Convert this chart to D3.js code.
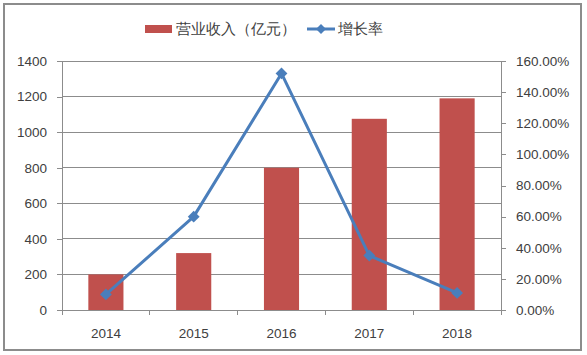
<!DOCTYPE html>
<html><head><meta charset="utf-8">
<script src="https://cdn.jsdelivr.net/npm/d3@7"></script>
<style>body{margin:0;background:#fff}svg{display:block}</style>
</head><body>
<script>
const categories = ["2014","2015","2016","2017","2018"];
const revenue = [200, 320, 800, 1075, 1190];
const growth = [0.10, 0.60, 1.52, 0.35, 0.11];
const leftTicks = [0,200,400,600,800,1000,1200,1400];
const rightTicks = [0,0.2,0.4,0.6,0.8,1.0,1.2,1.4,1.6];
const legendLabels = ["营业收入（亿元）","增长率"];

const W = 587, H = 355;
const svg = d3.select("body").append("svg").attr("width", W).attr("height", H);
svg.append("rect").attr("x",4).attr("y",4).attr("width",577).attr("height",346)
  .attr("fill","#fff").attr("stroke","#8c8c8c").attr("stroke-width",2);

const pL = 62, pR = 501, pT = 61, pB = 310;
const x = d3.scaleBand().domain(categories).range([pL,pR]).paddingInner(0.6).paddingOuter(0.3);
const xb = d3.scaleBand().domain(categories).range([pL,pR]);
const yL = d3.scaleLinear().domain([0,1400]).range([pB,pT]);
const yR = d3.scaleLinear().domain([0,1.6]).range([pB,pT]);
const font = "'Liberation Sans', Arial, sans-serif";
const txt = "#404040", grid = "#8c8c8c";

// gridlines
svg.append("g").selectAll("line").data(leftTicks.slice(1)).join("line")
  .attr("x1",pL).attr("x2",pR).attr("y1",d=>yL(d)).attr("y2",d=>yL(d))
  .attr("stroke",grid).attr("stroke-width",1).attr("shape-rendering","crispEdges");

// left axis
const gl = svg.append("g").attr("transform",`translate(${pL},0)`)
  .call(d3.axisLeft(yL).tickValues(leftTicks).tickSize(5).tickPadding(10).tickFormat(d3.format("d")));
// right axis
const gr = svg.append("g").attr("transform",`translate(${pR},0)`)
  .call(d3.axisRight(yR).tickValues(rightTicks).tickSize(5).tickPadding(10).tickFormat(d3.format(".2%")));
// x axis
const gx = svg.append("g").attr("transform",`translate(0,${pB})`)
  .call(d3.axisBottom(xb).tickSize(0).tickPadding(18));
// x ticks between categories
svg.append("g").selectAll("line").data(categories.concat(["end"])).join("line")
  .attr("x1",(d,i)=>pL+i*xb.bandwidth()).attr("x2",(d,i)=>pL+i*xb.bandwidth())
  .attr("y1",pB).attr("y2",pB+5).attr("stroke",grid).attr("shape-rendering","crispEdges");

[gl,gr,gx].forEach(g=>{
  g.selectAll(".domain").attr("stroke",grid).attr("shape-rendering","crispEdges");
  g.selectAll(".tick line").attr("stroke",grid).attr("shape-rendering","crispEdges");
  g.selectAll("text").attr("fill",txt).style("font-family",font).style("font-size","13.5px");
});
gx.select(".domain").attr("d",`M${pL},0H${pR}`);

// bars
svg.append("g").selectAll("rect").data(revenue).join("rect")
  .attr("x",(d,i)=>x(categories[i])).attr("width",x.bandwidth())
  .attr("y",d=>yL(d)).attr("height",d=>yL(0)-yL(d)).attr("fill","#c0504d");

// line
const cx = i => xb(categories[i]) + xb.bandwidth()/2;
svg.append("path").datum(growth)
  .attr("d", d3.line().x((d,i)=>cx(i)).y(d=>yR(d)))
  .attr("fill","none").attr("stroke","#4a7ebb").attr("stroke-width",3).attr("stroke-linejoin","round");
svg.append("g").selectAll("path").data(growth).join("path")
  .attr("d", d3.symbol(d3.symbolSquare, 70))
  .attr("transform",(d,i)=>`translate(${cx(i)},${yR(d)}) rotate(45)`)
  .attr("fill","#4a7ebb");

// legend
const lg = svg.append("g").style("font-family",font).style("font-size","14.5px");
lg.append("rect").attr("x",145).attr("y",25).attr("width",27).attr("height",8).attr("fill","#c0504d");
lg.append("text").attr("x",176).attr("y",34).attr("fill",txt).text(legendLabels[0]);
lg.append("line").attr("x1",307).attr("x2",335).attr("y1",29).attr("y2",29).attr("stroke","#4a7ebb").attr("stroke-width",3);
lg.append("path").attr("d",d3.symbol(d3.symbolSquare,50)).attr("transform","translate(321,29) rotate(45)").attr("fill","#4a7ebb");
lg.append("text").attr("x",338).attr("y",34).attr("fill",txt).text(legendLabels[1]);
</script>
</body></html>
